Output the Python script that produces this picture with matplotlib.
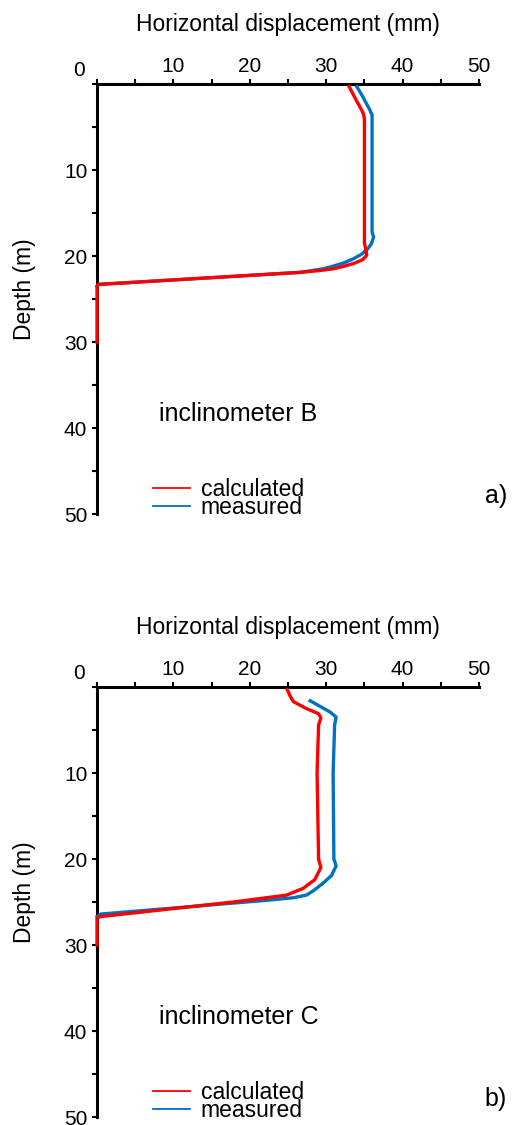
import matplotlib
matplotlib.use("Agg")
import matplotlib.pyplot as plt
from matplotlib.lines import Line2D
from matplotlib.ticker import MultipleLocator

plt.rcParams["font.family"] = ["Liberation Sans", "DejaVu Sans"]

RED = "#FF0000"
BLUE = "#0070C0"

# inclinometer B: depth (m) and horizontal displacement (mm)
b_calc_depth = [0.3, 1.5, 3.3, 4.0, 10.0, 18.5, 19.3, 19.9, 20.4, 20.8, 21.2, 21.5, 21.7, 21.9, 23.3, 23.5, 30.0]
b_calc_disp = [33.0, 33.7, 34.8, 35.0, 35.0, 35.0, 35.2, 35.3, 34.8, 33.8, 32.3, 30.8, 29.0, 26.6, 0.2, 0.0, 0.0]
b_meas_depth = [0.3, 1.5, 3.0, 3.6, 10.0, 17.2, 17.8, 18.6, 19.3, 19.8, 20.3, 20.8, 21.2, 21.5, 21.9, 23.3, 23.5]
b_meas_disp = [34.0, 34.8, 35.7, 36.0, 36.0, 36.0, 36.2, 35.9, 35.3, 34.6, 33.6, 32.3, 30.8, 29.5, 26.6, 0.2, 0.0]

# inclinometer C
c_calc_depth = [0.3, 1.1, 1.7, 2.5, 3.1, 3.6, 4.4, 10.0, 20.0, 21.0, 22.4, 23.4, 24.2, 24.6, 25.0, 26.7, 26.9, 30.0]
c_calc_disp = [24.9, 25.3, 25.7, 27.4, 29.0, 29.3, 29.0, 28.8, 29.0, 29.3, 28.5, 27.0, 24.8, 21.3, 17.8, 0.4, 0.0, 0.0]
c_meas_depth = [1.6, 2.9, 3.5, 4.4, 10.0, 20.0, 20.8, 21.9, 22.8, 23.7, 24.2, 24.5, 24.8, 26.4, 26.7]
c_meas_disp = [27.9, 30.5, 31.3, 31.1, 30.9, 31.0, 31.3, 30.7, 29.6, 28.3, 27.4, 25.7, 22.2, 0.5, 0.0]

series_labels = ["calculated", "measured"]


def draw_panel(ax, calc_depth, calc_disp, meas_depth, meas_disp, name, tag):
    ax.plot(meas_disp, meas_depth, color=BLUE, lw=2.4, zorder=3, clip_on=False)
    ax.plot(calc_disp, calc_depth, color=RED, lw=2.4, zorder=4, clip_on=False)

    ax.set_xlim(0, 50)
    ax.set_ylim(50, 0)

    for side in ["right", "bottom"]:
        ax.spines[side].set_visible(False)
    for side in ["top", "left"]:
        ax.spines[side].set_linewidth(2.2)
        ax.spines[side].set_capstyle("projecting")

    ax.xaxis.tick_top()
    ax.xaxis.set_label_position("top")
    ax.xaxis.set_minor_locator(MultipleLocator(5))
    ax.yaxis.set_minor_locator(MultipleLocator(5))
    ax.tick_params(which="both", direction="out", length=3.5, width=1.5, color="black")
    ax.tick_params(axis="x", labelsize=15, pad=2.0)
    ax.tick_params(axis="y", labelsize=15, pad=3.5)

    # the shared "0" sits in the corner, drawn separately
    ax.set_xticks([10, 20, 30, 40, 50])
    ax.set_yticks([10, 20, 30, 40, 50])
    ax.text(-0.047, 1.031, "0", transform=ax.transAxes, ha="center", va="center", fontsize=15)

    ax.set_xlabel("Horizontal displacement (mm)", fontsize=16.5)
    ax.xaxis.set_label_coords(0.5, 1.124)
    ax.set_ylabel("Depth (m)", fontsize=16.5)
    ax.yaxis.set_label_coords(-0.16, 0.523)

    ax.text(8.1, 38.4, name, fontsize=18, ha="left", va="center")
    ax.text(52.2, 47.9, tag, fontsize=18, ha="center", va="center", clip_on=False)

    handles = [Line2D([], [], color=RED, lw=1.3), Line2D([], [], color=BLUE, lw=1.3)]
    ax.legend(handles, series_labels, loc="center left", bbox_to_anchor=(0.147, 0.036),
              frameon=False, borderpad=0, borderaxespad=0, handlelength=1.6,
              handletextpad=0.48, labelspacing=-0.22, fontsize=16.5)


fig = plt.figure(figsize=(5.18, 11.25), dpi=100)
ax_b = fig.add_axes([0.1873, 0.5431, 0.7375, 0.3822])
ax_c = fig.add_axes([0.1873, 0.0071, 0.7375, 0.3822])

draw_panel(ax_b, b_calc_depth, b_calc_disp, b_meas_depth, b_meas_disp, "inclinometer B", "a)")
draw_panel(ax_c, c_calc_depth, c_calc_disp, c_meas_depth, c_meas_disp, "inclinometer C", "b)")

fig.savefig("out.png", dpi=100)
